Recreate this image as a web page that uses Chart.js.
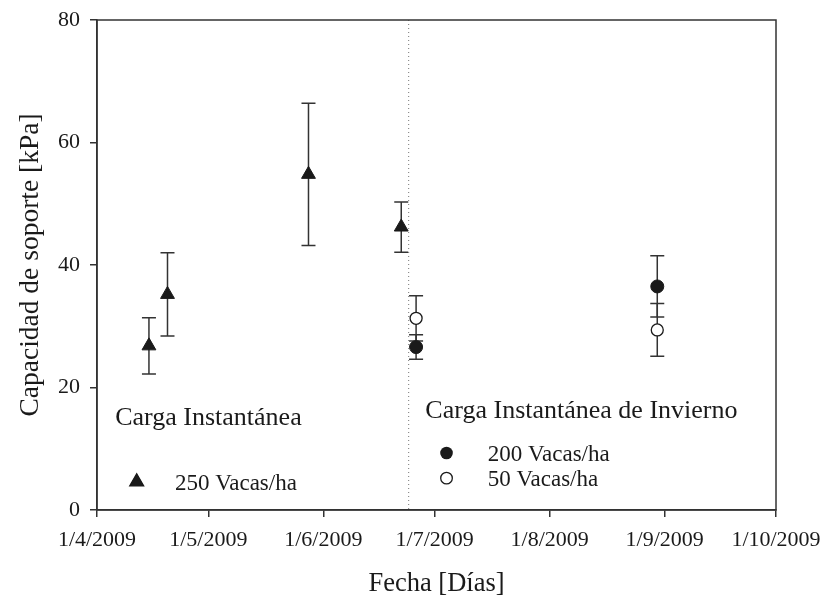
<!DOCTYPE html>
<html>
<head>
<meta charset="utf-8">
<script src="https://cdn.jsdelivr.net/npm/chart.js@4/dist/chart.umd.min.js"></script>
<style>
  html, body { margin: 0; padding: 0; background: #fff; }
  #wrap { width: 825px; height: 597px; }
</style>
</head>
<body>
<div id="wrap"><canvas id="chart"></canvas></div>
<script>
// --- datos ---
const fechas250 = ['2009-04-15', '2009-04-20', '2009-05-28', '2009-06-22'];
const valores250 = [26.8, 35.2, 54.8, 46.2];
const errores250 = [4.6, 6.8, 11.6, 4.1];

const fechas200 = ['2009-06-26', '2009-08-30'];
const valores200 = [26.6, 36.5];
const errores200 = [2.0, 5.0];

const fechas50 = ['2009-06-26', '2009-08-30'];
const valores50 = [31.3, 29.4];
const errores50 = [3.7, 4.3];

const fechaCorte = '2009-06-24';

const tickFechas = ['2009-04-01', '2009-05-01', '2009-06-01', '2009-07-01', '2009-08-01', '2009-09-01', '2009-10-01'];
const tickEtiquetas = ['1/4/2009', '1/5/2009', '1/6/2009', '1/7/2009', '1/8/2009', '1/9/2009', '1/10/2009'];
const yTicks = [0, 20, 40, 60, 80];

const serif = "'Liberation Serif', 'Times New Roman', serif";
const ink = '#1a1a1a';

// dias desde 1/4/2009
function dia(f) {
  const p = f.split('-').map(Number);
  return (Date.UTC(p[0], p[1] - 1, p[2]) - Date.UTC(2009, 3, 1)) / 86400000;
}

function puntos(fechas, valores) {
  return fechas.map((f, i) => ({ x: dia(f), y: valores[i] }));
}

const errorBars = {
  id: 'errorBars',
  beforeDatasetsDraw(chart) {
    const ctx = chart.ctx;
    const xs = chart.scales.x, ys = chart.scales.y;
    ctx.save();
    ctx.strokeStyle = '#333';
    ctx.lineWidth = 1.5;
    chart.data.datasets.forEach((ds) => {
      if (!ds.errores) return;
      ds.data.forEach((p, i) => {
        const e = ds.errores[i];
        const px = xs.getPixelForValue(p.x);
        const top = ys.getPixelForValue(p.y + e);
        const bot = ys.getPixelForValue(p.y - e);
        ctx.beginPath();
        ctx.moveTo(px, top); ctx.lineTo(px, bot);
        ctx.moveTo(px - 7, top); ctx.lineTo(px + 7, top);
        ctx.moveTo(px - 7, bot); ctx.lineTo(px + 7, bot);
        ctx.stroke();
      });
    });
    ctx.restore();
  }
};

const marco = {
  id: 'marco',
  beforeDatasetsDraw(chart) {
    const ctx = chart.ctx, a = chart.chartArea;
    const xs = chart.scales.x;
    ctx.save();
    // linea punteada
    const cx = xs.getPixelForValue(dia(fechaCorte));
    ctx.strokeStyle = '#777';
    ctx.lineWidth = 1;
    ctx.setLineDash([1, 3]);
    ctx.beginPath();
    ctx.moveTo(cx, a.top); ctx.lineTo(cx, a.bottom);
    ctx.stroke();
    ctx.setLineDash([]);
    ctx.strokeStyle = '#333';
    ctx.lineWidth = 1.5;
    ctx.strokeRect(a.left, a.top, a.right - a.left, a.bottom - a.top);
    ctx.restore();
  },
  afterDatasetsDraw(chart) {
    const ctx = chart.ctx;
    const xs = chart.scales.x, ys = chart.scales.y;
    const X = (d) => xs.getPixelForValue(d), Y = (v) => ys.getPixelForValue(v);
    ctx.save();
    ctx.fillStyle = ink;
    ctx.textBaseline = 'alphabetic';
    ctx.textAlign = 'left';
    ctx.font = '26px ' + serif;
    ctx.fillText('Carga Instantánea', X(4.9), Y(13.9));
    ctx.fillText('Carga Instantánea de Invierno', X(88.5), Y(15.0));
    ctx.font = '23px ' + serif;
    ctx.fillText('250 Vacas/ha', X(21), Y(3.2));
    ctx.fillText('200 Vacas/ha', X(105.3), Y(8.0));
    ctx.fillText('50 Vacas/ha', X(105.3), Y(3.9));
    ctx.strokeStyle = ink;
    ctx.lineWidth = 1.3;
    Chart.helpers.drawPoint(ctx, { pointStyle: 'triangle', radius: 8, rotation: 0, borderWidth: 1 }, X(10.7), Y(4.6));
    ctx.fill();
    ctx.beginPath();
    ctx.arc(X(94.2), Y(9.3), 6.3, 0, Math.PI * 2);
    ctx.fill();
    ctx.fillStyle = '#fff';
    ctx.beginPath();
    ctx.arc(X(94.2), Y(5.2), 5.8, 0, Math.PI * 2);
    ctx.fill();
    ctx.stroke();
    ctx.restore();
  }
};

new Chart('chart', {
  type: 'scatter',
  data: {
    datasets: [
      {
        label: '250 Vacas/ha',
        data: puntos(fechas250, valores250),
        errores: errores250,
        pointStyle: 'triangle',
        pointRadius: 8,
        backgroundColor: ink,
        borderColor: ink,
        borderWidth: 1,
      },
      {
        label: '200 Vacas/ha',
        data: puntos(fechas200, valores200),
        errores: errores200,
        pointStyle: 'circle',
        pointRadius: 6.5,
        backgroundColor: ink,
        borderColor: ink,
        borderWidth: 1,
      },
      {
        label: '50 Vacas/ha',
        data: puntos(fechas50, valores50),
        errores: errores50,
        pointStyle: 'circle',
        pointRadius: 6,
        backgroundColor: '#fff',
        borderColor: ink,
        borderWidth: 1.3,
      },
    ],
  },
  options: {
    responsive: true,
    maintainAspectRatio: false,
    animation: false,
    events: [],
    layout: { padding: { top: 20, right: 49, bottom: 0, left: 0 } },
    plugins: {
      legend: { display: false },
      tooltip: { enabled: false },
    },
    scales: {
      x: {
        type: 'linear',
        min: 0,
        max: dia('2009-10-01'),
        afterBuildTicks: (s) => { s.ticks = tickFechas.map((f) => ({ value: dia(f) })); },
        afterFit: (s) => { s.height = 87; s.paddingLeft = 0; s.paddingRight = 0; },
        grid: { drawOnChartArea: false, drawTicks: true, tickLength: 7, color: '#333', lineWidth: 1.5 },
        border: { display: true, color: '#333', width: 1.5 },
        ticks: {
          color: ink,
          font: { family: serif, size: 22 },
          padding: 10,
          maxRotation: 0,
          autoSkip: false,
          callback: (v, i) => tickEtiquetas[i],
        },
        title: {
          display: true,
          text: 'Fecha [Días]',
          color: ink,
          font: { family: serif, size: 26.5, lineHeight: 1 },
          padding: { top: 0, bottom: 0 },
        },
      },
      y: {
        min: 0,
        max: 80,
        afterBuildTicks: (s) => { s.ticks = yTicks.map((v) => ({ value: v })); },
        afterFit: (s) => { s.width = 97; s.paddingTop = 0; s.paddingBottom = 0; },
        grid: { drawOnChartArea: false, drawTicks: true, tickLength: 7, color: '#333', lineWidth: 1.5 },
        border: { display: true, color: '#333', width: 1.5 },
        ticks: {
          color: ink,
          font: { family: serif, size: 22 },
          padding: 10,
        },
        title: {
          display: true,
          text: 'Capacidad de soporte [kPa]',
          color: ink,
          font: { family: serif, size: 27.5, lineHeight: 1 },
          padding: { top: 17, bottom: 0 },
        },
      },
    },
  },
  plugins: [errorBars, marco],
});
</script>
</body>
</html>
